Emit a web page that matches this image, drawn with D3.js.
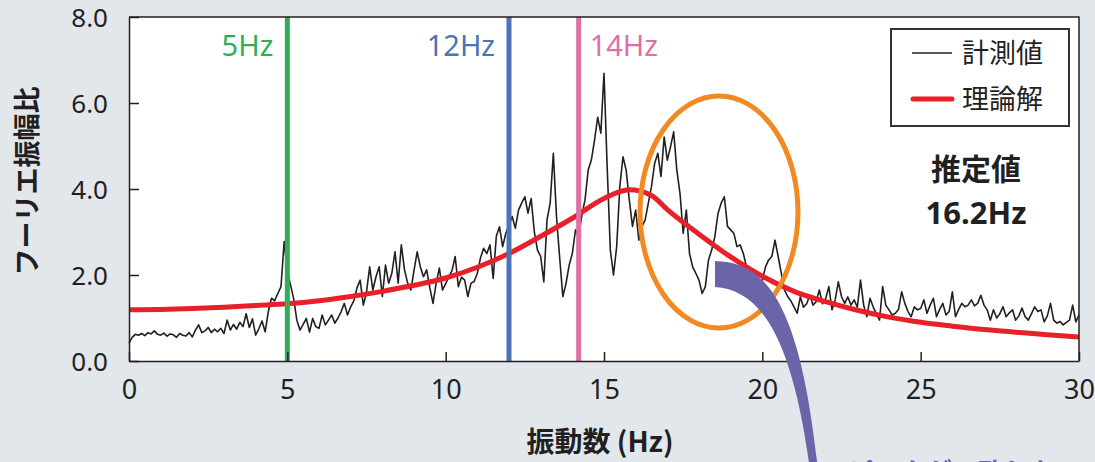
<!DOCTYPE html>
<html>
<head>
<meta charset="utf-8">
<script src="https://cdn.jsdelivr.net/npm/d3@7"></script>
<style>
  body { margin: 0; background: #e2e7ec; }
  svg { display: block; }
  text { font-family: "Noto Sans", "Noto Sans CJK JP", sans-serif; fill: #231f20; }
  .jp { font-family: "Noto Sans CJK JP", "Noto Sans", sans-serif; }
</style>
</head>
<body>
<svg id="chart" width="1095" height="462"></svg>
<script>
// measured spectrum, one value every 0.1 Hz from 0 to 30 Hz
var measStep = 0.1;
var measured = [
  0.42,0.55,0.62,0.60,0.64,0.59,0.66,0.63,0.70,0.62,
  0.60,0.65,0.58,0.63,0.61,0.55,0.64,0.60,0.58,0.66,
  0.56,0.72,0.84,0.66,0.70,0.78,0.66,0.74,0.68,0.76,
  0.64,0.95,0.72,0.85,0.74,0.90,0.80,1.10,0.78,0.98,
  0.60,0.75,0.93,0.68,1.15,1.46,1.40,1.57,1.73,2.78,
  2.08,1.77,1.45,0.95,0.72,0.85,0.99,0.67,0.99,0.80,
  0.76,1.07,0.84,0.95,1.07,0.88,1.00,1.15,1.34,1.07,
  1.26,1.40,1.70,1.88,1.30,1.60,2.19,1.65,1.96,2.19,
  1.50,2.23,1.81,2.04,2.54,1.81,2.70,2.12,1.81,1.65,
  2.10,2.54,2.19,1.96,2.12,1.70,1.34,1.81,2.16,1.65,
  1.80,1.96,2.10,2.43,1.73,1.95,1.88,1.50,1.81,1.85,
  2.04,2.40,2.62,2.50,2.70,1.92,2.90,3.12,2.66,2.97,
  3.16,3.36,3.09,3.51,3.67,3.82,3.44,3.78,3.00,2.58,
  2.43,1.84,3.28,3.67,4.83,3.36,2.40,1.50,1.80,2.23,
  2.50,3.05,2.90,3.40,3.74,4.44,4.67,5.13,5.67,5.30,
  6.69,4.52,2.58,2.00,2.66,4.06,4.75,4.44,3.74,3.13,
  3.51,2.81,3.13,3.28,3.67,4.06,4.60,4.83,4.29,5.21,
  4.67,4.98,5.33,4.44,3.90,2.97,3.51,2.50,2.19,2.04,
  1.88,1.57,1.73,2.35,2.58,2.89,3.43,3.67,3.82,3.13,
  3.05,2.97,2.66,2.70,2.50,2.19,2.04,1.95,1.73,1.80,
  1.88,2.19,2.35,2.43,2.81,2.43,2.04,1.65,1.50,1.40,
  1.26,1.11,1.49,1.25,1.33,1.53,1.30,1.38,1.65,1.33,
  1.45,1.73,1.19,1.42,1.84,1.50,1.34,1.49,1.30,1.42,
  1.25,1.88,1.30,1.03,1.46,1.26,1.10,0.95,1.73,1.30,
  1.19,1.07,1.11,1.20,1.61,1.34,1.15,1.03,1.26,1.19,
  1.22,1.42,1.11,1.30,1.46,1.03,1.20,1.34,1.07,1.15,
  1.61,1.03,1.20,1.34,1.26,1.30,1.42,1.28,1.34,1.53,
  1.30,1.19,0.95,1.19,1.00,1.10,1.26,1.03,1.12,1.19,
  0.95,1.05,1.23,1.03,0.95,1.10,1.26,1.15,1.19,0.91,
  1.05,1.34,0.95,0.88,0.92,0.84,0.90,0.95,1.30,0.91,
  1.07
];

// theoretical curve
var theoFreq = [0,1,2,3,4,5,6,7,8,9,10,11,12,13,14,15,15.8,16.5,17,18,19,20,21,22,23,24,25,26,27,28,29,30];
var theoValues = [1.19,1.20,1.22,1.25,1.29,1.33,1.40,1.50,1.62,1.76,1.93,2.18,2.50,2.90,3.32,3.78,3.98,3.85,3.52,2.95,2.42,1.97,1.62,1.38,1.18,1.02,0.90,0.81,0.73,0.67,0.61,0.56];

// marker lines
var markFreq = [5, 12, 14.2];
var markLabels = ["5Hz", "12Hz", "14Hz"];
var markColors = ["#2fae57", "#4a76b8", "#e06fa6"];

var xTicks = [0, 5, 10, 15, 20, 25, 30];
var yTicks = [0, 2, 4, 6, 8];

var svg = d3.select("#chart");
var x = d3.scaleLinear().domain([0, 30]).range([129, 1079]);
var y = d3.scaleLinear().domain([0, 8]).range([361, 17]);

// plot area
svg.append("rect")
  .attr("x", x(0)).attr("y", y(8))
  .attr("width", x(30) - x(0)).attr("height", y(0) - y(8))
  .attr("fill", "#fff");

var measLine = d3.line()
  .x(function(d, i) { return x(i * measStep); })
  .y(function(d) { return y(d); });

svg.append("path")
  .datum(measured)
  .attr("d", measLine)
  .attr("fill", "none")
  .attr("stroke", "#231f20")
  .attr("stroke-width", 1.6)
  .attr("stroke-linejoin", "round");

var theoLine = d3.line()
  .x(function(d, i) { return x(theoFreq[i]); })
  .y(function(d) { return y(d); })
  .curve(d3.curveMonotoneX);

svg.append("path")
  .datum(theoValues)
  .attr("d", theoLine)
  .attr("fill", "none")
  .attr("stroke", "#e8202a")
  .attr("stroke-width", 5);

// marker lines + labels
markFreq.forEach(function(f, i) {
  svg.append("line")
    .attr("x1", x(f)).attr("x2", x(f))
    .attr("y1", y(8)).attr("y2", y(0))
    .attr("stroke", markColors[i])
    .attr("stroke-width", 5);
  var right = i == 2;
  svg.append("text")
    .attr("x", right ? x(f) + 11 : x(f) - 14)
    .attr("y", 56)
    .attr("text-anchor", right ? "start" : "end")
    .attr("font-size", 29)
    .style("fill", markColors[i])
    .text(markLabels[i]);
});

// axes (ticks inward)
svg.append("g")
  .attr("transform", "translate(0," + y(0) + ")")
  .call(d3.axisBottom(x).tickValues(xTicks).tickSizeInner(-9).tickSizeOuter(0).tickPadding(19)
    .tickFormat(d3.format("d")))
  .call(function(g) {
    g.selectAll("text").attr("font-size", 27).style("font-family", "Noto Sans");
    g.selectAll("line, path").attr("stroke", "#231f20").attr("stroke-width", 1.5);
  });

svg.append("g")
  .attr("transform", "translate(" + x(0) + ",0)")
  .call(d3.axisLeft(y).tickValues(yTicks).tickSizeInner(-10).tickSizeOuter(0).tickPadding(21)
    .tickFormat(d3.format(".1f")))
  .call(function(g) {
    g.selectAll("text").attr("font-size", 26).attr("dy", "0.36em").style("font-family", "Noto Sans");
    g.selectAll("line, path").attr("stroke", "#231f20").attr("stroke-width", 1.5);
  });

// frame top/right
svg.append("path")
  .attr("d", "M" + x(0) + "," + y(8) + "H" + x(30) + "V" + y(0))
  .attr("fill", "none")
  .attr("stroke", "#231f20")
  .attr("stroke-width", 1.5);

// axis titles
svg.append("text")
  .attr("class", "jp")
  .attr("x", 600).attr("y", 452)
  .attr("text-anchor", "middle")
  .attr("font-size", 28).attr("font-weight", "bold")
  .text("振動数 (Hz)");

svg.append("text")
  .attr("class", "jp")
  .attr("transform", "translate(37,181) rotate(-90)")
  .attr("text-anchor", "middle")
  .attr("font-size", 27).attr("font-weight", "bold")
  .text("フーリエ振幅比");

// legend
var lg = svg.append("g");
lg.append("rect")
  .attr("x", 891).attr("y", 29).attr("width", 178).attr("height", 97)
  .attr("fill", "#fff").attr("stroke", "#333").attr("stroke-width", 2);
lg.append("line").attr("x1", 912).attr("x2", 952).attr("y1", 53).attr("y2", 53)
  .attr("stroke", "#231f20").attr("stroke-width", 1.5);
lg.append("line").attr("x1", 913).attr("x2", 952).attr("y1", 99).attr("y2", 99)
  .attr("stroke", "#e8202a").attr("stroke-width", 5).attr("stroke-linecap", "round");
lg.append("text").attr("class", "jp").attr("x", 962).attr("y", 63).attr("font-size", 27).text("計測値");
lg.append("text").attr("class", "jp").attr("x", 962).attr("y", 109).attr("font-size", 27).text("理論解");

// estimate annotation
svg.append("text").attr("class", "jp")
  .attr("x", 976).attr("y", 180).attr("text-anchor", "middle")
  .attr("font-size", 30).attr("font-weight", "bold").text("推定値");
svg.append("text")
  .attr("x", 976).attr("y", 224).attr("text-anchor", "middle")
  .attr("font-size", 31).attr("font-weight", "bold").text("16.2Hz");

// orange ellipse
svg.append("ellipse")
  .attr("cx", 719).attr("cy", 212).attr("rx", 79).attr("ry", 116)
  .attr("fill", "none").attr("stroke", "#f28a22").attr("stroke-width", 5);

// purple callout band
svg.append("path")
  .attr("d", "M715,261 C765,262 800,300 818,470 L810,470 C792,335 760,290 715,287 Z")
  .attr("fill", "#6a65a8");

// caption below, cut off by the picture edge as in the original
svg.append("text").attr("class", "jp")
  .attr("x", 848).attr("y", 482)
  .attr("font-size", 26).attr("font-weight", "bold")
  .style("fill", "#6a65a8")
  .text("ピークが一致しない");
</script>
</body>
</html>
